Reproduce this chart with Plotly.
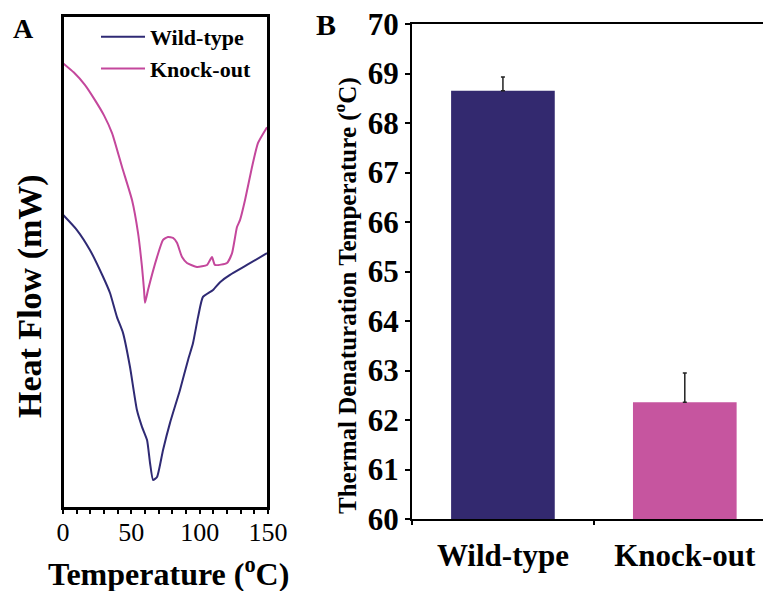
import plotly.graph_objects as go

# ---- Panel A: DSC thermograms (heat flow, arbitrary offset units) ----
ko_temp = [0, 8.0, 16.0, 23.4, 30.0, 35.9, 43.2, 50.5, 54.9, 57.8, 59.3, 60.0, 62.2, 68.8,
           73.2, 76.8, 80.5, 83.4, 87.1, 90.7, 98.0, 105.4, 109.0, 111.2, 120.0, 123.7,
           127.3, 129.5, 133.2, 138.3, 142.7, 149.3]
ko_flow = [9.04, 8.85, 8.60, 8.29, 7.98, 7.62, 6.93, 6.26, 5.59, 4.90, 4.43, 4.17, 4.43,
           5.10, 5.45, 5.51, 5.49, 5.39, 5.10, 4.98, 4.90, 4.94, 5.10, 4.94, 4.98, 5.18,
           5.71, 5.85, 6.26, 6.93, 7.42, 7.74]

wt_temp = [0, 10.2, 19.8, 29.3, 34.4, 39.5, 43.9, 49.0, 54.1, 57.8, 61.5, 63.7, 65.9,
           68.8, 73.2, 78.3, 85.6, 91.5, 95.1, 98.8, 102.4, 109.8, 114.9, 122.2,
           134.6, 149.3]
wt_flow = [5.96, 5.65, 5.24, 4.70, 4.37, 3.88, 3.56, 2.87, 1.99, 1.65, 1.38, 0.91, 0.57,
           0.63, 1.18, 1.73, 2.40, 3.01, 3.35, 3.88, 4.29, 4.43, 4.59, 4.74,
           4.94, 5.18]

temp_ticks = [0, 10, 20, 30, 40, 50, 60, 70, 80, 90, 100, 110, 120, 130, 140, 150]
temp_labels = ["0", "", "", "", "", "50", "", "", "", "", "100", "", "", "", "", "150"]

# ---- Panel B: thermal denaturation temperature ----
groups = ["Wild-type", "Knock-out"]
tm_values = [68.65, 62.36]
tm_errors = [0.28, 0.59]

NAVY = "#2f2a74"
PINK = "#c4479c"
BAR_NAVY = "#33296f"
BAR_PINK = "#c6559f"
SERIF = "Liberation Serif, Times New Roman, serif"

fig = go.Figure()

fig.add_trace(go.Scatter(x=wt_temp, y=wt_flow, mode="lines", name="Wild-type",
                         line=dict(color=NAVY, width=2, shape="spline", smoothing=0.5),
                         xaxis="x", yaxis="y"))
fig.add_trace(go.Scatter(x=ko_temp, y=ko_flow, mode="lines", name="Knock-out",
                         line=dict(color=PINK, width=2, shape="spline", smoothing=0.5),
                         xaxis="x", yaxis="y"))

fig.add_trace(go.Bar(x=groups, y=[v - 60 for v in tm_values], base=60,
                     marker=dict(color=[BAR_NAVY, BAR_PINK], line=dict(width=0)),
                     width=0.57, showlegend=False,
                     error_y=dict(type="data", symmetric=False, array=tm_errors,
                                  arrayminus=[0, 0], color="#222222",
                                  thickness=1.5, width=2),
                     xaxis="x2", yaxis="y2"))

W, H = 763, 591

def px(xp):
    return xp / W

def py(yp):
    return 1 - yp / H

fig.update_layout(
    width=W, height=H,
    margin=dict(l=0, r=0, t=0, b=0, autoexpand=False),
    paper_bgcolor="white", plot_bgcolor="white",
    font=dict(family=SERIF, color="black"),
    showlegend=True,
    legend=dict(x=px(96), y=py(16), xanchor="left", yanchor="top",
                bgcolor="rgba(0,0,0,0)",
                font=dict(family=SERIF, size=22, color="black", weight="bold"),
                tracegroupgap=0, itemwidth=44),
    xaxis=dict(domain=[px(63), px(268)], range=[0, 150], anchor="y", automargin=False,
               showline=True, mirror=True, linecolor="#000000", linewidth=2,
               showgrid=False, zeroline=False,
               tickmode="array", tickvals=temp_ticks, ticktext=temp_labels,
               ticks="outside", ticklen=4, tickwidth=2, tickcolor="black",
               ticklabelstandoff=-4,
               tickfont=dict(family=SERIF, size=26, color="black")),
    yaxis=dict(domain=[py(508), py(16)], range=[0, 10], anchor="x", automargin=False,
               showline=True, mirror=True, linecolor="#000000", linewidth=2,
               showgrid=False, zeroline=False, showticklabels=False, ticks=""),
    xaxis2=dict(domain=[px(412), 1.0], range=[-0.5, 1.43], anchor="y2", automargin=False,
                type="category", showline=True, mirror=True, linecolor="black",
                linewidth=2, showgrid=False, zeroline=False,
                tickson="boundaries", ticks="outside", ticklen=4, tickwidth=2,
                tickcolor="black", ticklabelstandoff=8,
                tickfont=dict(family=SERIF, size=31, color="black", weight="bold")),
    yaxis2=dict(domain=[py(519), py(24)], range=[60, 70], anchor="x2", automargin=False,
                showline=True, linecolor="black", linewidth=2,
                showgrid=False, zeroline=False, dtick=1,
                ticks="outside", ticklen=5, tickwidth=1.5, tickcolor="black",
                tickfont=dict(family=SERIF, size=31, color="black", weight="bold")),
    bargap=0.4,
)

# frame around panel A
fig.add_shape(type="rect", xref="x domain", yref="y domain", x0=0, x1=1, y0=0, y1=1,
              line=dict(color="black", width=2), fillcolor="rgba(0,0,0,0)", layer="above")

ann = [
    dict(text="<b>A</b>", x=px(23), y=py(29), size=28, angle=0),
    dict(text="<b>B</b>", x=px(326), y=py(25), size=30, angle=0),
    dict(text="<b>Heat Flow (mW)</b>", x=px(30), y=py(296), size=34, angle=-90),
    dict(text="<b>Temperature (<sup>o</sup>C)</b>", x=px(168), y=py(572), size=32, angle=0),
    dict(text="<b>Thermal Denaturation Temperature (<sup>o</sup>C)</b>", x=px(345),
         y=py(296), size=25, angle=-90),
]
for a in ann:
    fig.add_annotation(text=a["text"], x=a["x"], y=a["y"], xref="paper", yref="paper",
                       xanchor="center", yanchor="middle", showarrow=False,
                       textangle=a["angle"],
                       font=dict(family=SERIF, size=a["size"], color="black"))

fig.write_html("out.html", config={"displayModeBar": False},
               post_script="document.body.style.margin='0px';")
